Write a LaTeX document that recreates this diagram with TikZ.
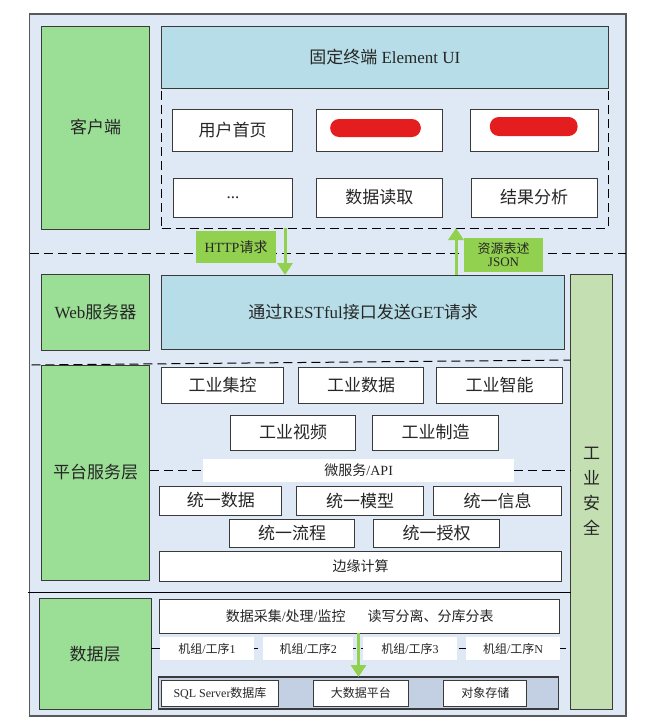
\documentclass[tikz,border=0pt]{standalone}
\usepackage{fontspec}
\setmainfont{Liberation Serif}
\newfontfamily\cjk{Noto Sans CJK SC}
\newcommand\zh[1]{{\cjk #1}}
\usetikzlibrary{arrows.meta}
\definecolor{outerfill}{HTML}{DEE9F5}
\definecolor{layergreen}{HTML}{9BDE96}
\definecolor{tealfill}{HTML}{B7DEE8}
\definecolor{safefill}{HTML}{C4DFB2}
\definecolor{arrowgreen}{HTML}{92D050}
\definecolor{contfill}{HTML}{C3CFE3}
\definecolor{edge}{HTML}{3A3A3A}
\definecolor{redmark}{HTML}{E41E1E}
\tikzset{
  sz/.style 2 args={minimum width=#1pt, minimum height=#2pt},
  base/.style={inner sep=0pt, outer sep=0pt, text=black!85},
  wbox/.style={base, draw=edge, line width=1pt, fill=white, font=\fontsize{17}{19}\selectfont},
  sbox/.style={base, draw=edge, line width=1pt, fill=white, font=\fontsize{13}{15}\selectfont},
  layer/.style={base, draw=edge, line width=1pt, fill=layergreen, font=\fontsize{17}{19}\selectfont},
  tealbox/.style={base, draw=edge, line width=1pt, fill=tealfill, font=\fontsize{17}{19}\selectfont},
  tag/.style={base, fill=arrowgreen, font=\fontsize{13}{15}\selectfont, align=center},
  plain/.style={base, fill=white, font=\fontsize{12}{14}\selectfont},
  divider/.style={draw=black, line width=1pt, dash pattern=on 9pt off 5pt},
  flow/.style={draw=arrowgreen, line width=3pt, -{Triangle[width=15pt,length=12pt]}},
  redact/.style={base, fill=redmark, rounded corners=9pt}
}
\begin{document}
\begin{tikzpicture}[x=1pt,y=-1pt]
\useasboundingbox (0,0) rectangle (667,723);
% outer frame
\node[base, draw=black!65, line width=1.5pt, fill=outerfill, sz={596.5}{702}] (outer) at (327.75,365) {};

% ---------- client layer ----------
\node[layer, sz={108.4}{203}] (client) at (95.6,127.5) {\zh{客户端}};
\node[base, draw=black, line width=1pt, dash pattern=on 9pt off 5pt, sz={446.4}{140}] (clientarea) at (384.8,158) {};
\node[tealbox, sz={446.4}{62}] (elui) at (384.8,57) {\zh{固定终端} Element UI};
\node[wbox, sz={120.2}{42}] (home) at (232.6,130) {\zh{用户首页}};
\node[wbox, sz={126.2}{42}] (hidden1) at (379.4,130) {};
\node[wbox, sz={128.1}{42}] (hidden2) at (534.2,130) {};
\node[redact, sz={90.7}{18}] (red1) at (375.5,128) {};
\node[redact, sz={87.7}{19}] (red2) at (533.7,126.5) {};
\node[wbox, sz={119.3}{39}] (more) at (233,197.5) {...};
\node[wbox, sz={126.2}{39}] (read) at (379.4,197.5) {\zh{数据读取}};
\node[wbox, sz={126.1}{39}] (analyse) at (534.1,197.5) {\zh{结果分析}};

\draw[divider] (29.5,253) -- (626,253);

% ---------- web server layer ----------
\node[layer, sz={108.4}{76}] (web) at (95.6,312) {Web\zh{服务器}};
\node[tealbox, sz={403.1}{74}] (rest) at (363.2,312) {\zh{通过}RESTful\zh{接口发送}GET\zh{请求}};
\node[base, draw=edge, line width=1pt, fill=safefill, sz={41.8}{435}, align=center,
      font=\fontsize{17}{25}\selectfont] (safe) at (591.6,491.5) {\zh{工}\\\zh{业}\\\zh{安}\\\zh{全}};

\node[tag, sz={80}{32}, font=\fontsize{14}{16}\selectfont] (http) at (236,247) {HTTP\zh{请求}};
\node[tag, sz={79}{34}] (json) at (503.5,255) {\zh{资源表述}\\[-2pt]JSON};
\coordinate (dn) at (285,228);
\coordinate (up) at (456,275);
\draw[flow] (dn) -- (dn |- rest.north);
\draw[flow] (up) -- (up |- clientarea.south);

\draw[divider] (31.5,365) -- (570.6,360);

% ---------- platform layer ----------
\node[layer, sz={108.4}{215}] (platform) at (95.6,472.5) {\zh{平台服务层}};
\node[wbox, sz={122.2}{36}] (jk) at (222.7,385) {\zh{工业集控}};
\node[wbox, sz={125.2}{36}] (sj) at (361.2,385) {\zh{工业数据}};
\node[wbox, sz={126.1}{36}] (zn) at (499.6,385) {\zh{工业智能}};
\node[wbox, sz={125.2}{35}] (sp) at (293.2,432.5) {\zh{工业视频}};
\node[wbox, sz={126.2}{35}] (zz) at (435.6,432.5) {\zh{工业制造}};
\draw[divider] (149.8,470) -- (570.6,470);
\node[plain, sz={311.4}{23}, font=\fontsize{14}{16}\selectfont] (api) at (358.7,470.5) {\zh{微服务}/API};
\node[wbox, sz={122.2}{29}] (u1) at (220.8,500.5) {\zh{统一数据}};
\node[wbox, sz={127.2}{29}] (u2) at (360.2,500.5) {\zh{统一模型}};
\node[wbox, sz={128.1}{29}] (u3) at (497.7,500.5) {\zh{统一信息}};
\node[wbox, sz={125.2}{28}] (u4) at (292.2,533) {\zh{统一流程}};
\node[wbox, sz={126.1}{28}] (u5) at (436.6,533) {\zh{统一授权}};
\node[sbox, sz={402}{30}, font=\fontsize{14}{16}\selectfont] (edgec) at (360.7,566) {\zh{边缘计算}};

\draw[line width=1pt, draw=black] (27.5,592) -- (570.6,592);

% ---------- data layer ----------
\node[layer, sz={111.7}{110.5}] (data) at (95.2,653.75) {\zh{数据层}};
\node[sbox, sz={400.1}{34}, font=\fontsize{14}{16}\selectfont] (collect) at (359.7,616) {\zh{数据采集}/\zh{处理}/\zh{监控}\hspace{22pt}\zh{读写分离、分库分表}};
\draw[divider] (151,648) -- (570.6,648);
\node[plain, sz={94}{23}] (m1) at (207,648.5) {\zh{机组}/\zh{工序}1};
\node[plain, sz={90}{23}] (m2) at (308.3,648.5) {\zh{机组}/\zh{工序}2};
\node[plain, sz={93.4}{23}] (m3) at (410,648.5) {\zh{机组}/\zh{工序}3};
\node[plain, sz={94}{23}] (m4) at (513,648.5) {\zh{机组}/\zh{工序}N};
\node[base, draw=edge, line width=1.5pt, fill=contfill, sz={400.4}{32}] (store) at (358.5,693) {};
\node[sbox, sz={116.6}{26}, font=\fontsize{12}{14}\selectfont] (sql) at (220,693) {SQL Server\zh{数据库}};
\node[sbox, sz={95}{26}, font=\fontsize{12}{14}\selectfont] (big) at (360.8,693) {\zh{大数据平台}};
\node[sbox, sz={82.7}{26}, font=\fontsize{12}{14}\selectfont] (obj) at (485.3,693) {\zh{对象存储}};
\coordinate (dd) at (358.5,633);
\draw[flow] (dd) -- (dd |- store.north);
\end{tikzpicture}
\end{document}
